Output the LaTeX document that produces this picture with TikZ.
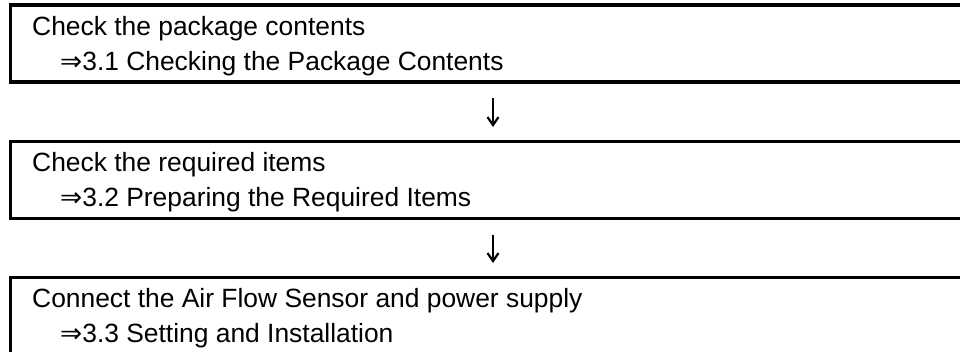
\documentclass[tikz,border=0pt]{standalone}
\usepackage{fontspec}
\setmainfont{Liberation Sans}
\newfontfamily\symfont{DejaVu Sans}
\usetikzlibrary{arrows.meta, positioning}

\tikzset{
    stepbox/.style={draw, line width=3.5pt, outer sep=0pt, inner sep=0pt,
        minimum width=965pt, minimum height=77pt, anchor=north west},
    steptext/.style={anchor=base west, inner sep=0pt,
        font=\fontsize{26.4}{32}\selectfont},
    nextarrow/.style={-{Straight Barb[length=8pt, width=11pt, line width=2.2pt]},
        line width=2.4pt, shorten <=16pt, shorten >=14.5pt}
}

\begin{document}
\begin{tikzpicture}[x=1pt, y=1pt]

    \clip (0,0) rectangle (960,-351);

    %% Steps

    % Boxes
    \node[stepbox] (box1) at (10.5,-5) {};
    \node[stepbox] (box2) at (10.5,-141.5) {};
    \node[stepbox] (box3) at (10.5,-277.5) {};

    % Texts
    \node[steptext] (title1) at ([shift={(21.5,-30)}]box1.north west) {Check the package contents};
    \node[steptext] (ref1) at ([shift={(49.5,-65)}]box1.north west) {{\symfont ⇒}3.1 Checking the Package Contents};
    \node[steptext] (title2) at ([shift={(21.5,-30)}]box2.north west) {Check the required items};
    \node[steptext] (ref2) at ([shift={(49.5,-65)}]box2.north west) {{\symfont ⇒}3.2 Preparing the Required Items};
    \node[steptext] (title3) at ([shift={(21.5,-30)}]box3.north west) {Connect the Air Flow Sensor and power supply};
    \node[steptext] (ref3) at ([shift={(49.5,-65)}]box3.north west) {{\symfont ⇒}3.3 Setting and Installation};

    % Arrows
    \draw[nextarrow] (box1.south) -- (box2.north);
    \draw[nextarrow] (box2.south) -- (box3.north);

\end{tikzpicture}
\end{document}
